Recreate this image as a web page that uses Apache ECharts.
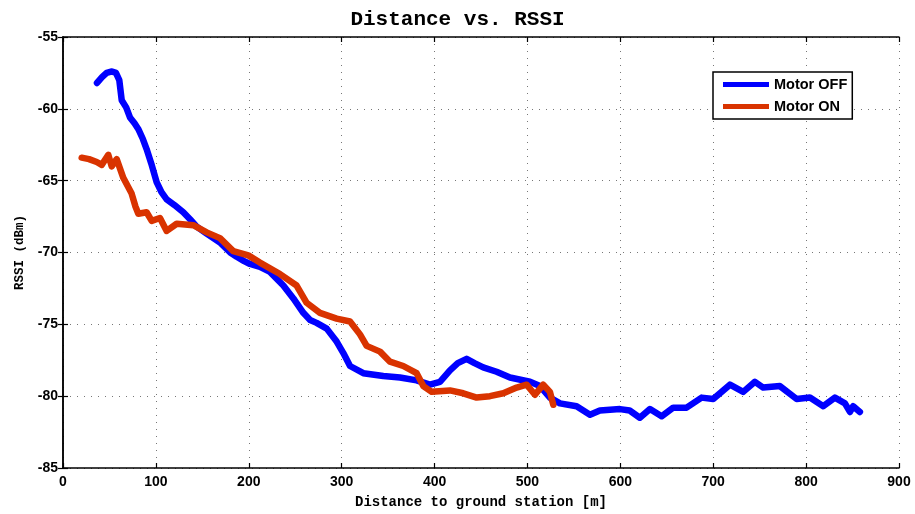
<!DOCTYPE html>
<html><head><meta charset="utf-8">
<script src="https://cdn.jsdelivr.net/npm/echarts@6/dist/echarts.min.js"></script>
<style>html,body{margin:0;padding:0;background:#fff}#c{width:915px;height:514px}</style>
</head><body><div id="c"></div>
<script>
const xTicks = [0,100,200,300,400,500,600,700,800,900];
const yTicks = [-85,-80,-75,-70,-65,-60,-55];
const motorOff = [[36.6,-58.2],[42,-57.8],[47,-57.5],[52.7,-57.4],[57,-57.5],[60.6,-58.0],[63.2,-59.4],[68,-59.9],[72.1,-60.6],[77,-61.0],[81,-61.4],[86,-62.1],[90,-62.8],[95,-63.8],[100.8,-65.1],[106,-65.8],[111.6,-66.3],[120,-66.7],[129.5,-67.2],[137,-67.7],[143.9,-68.2],[155,-68.7],[169,-69.3],[180,-70.0],[187,-70.3],[195,-70.6],[201.3,-70.8],[212,-71.0],[222.8,-71.35],[237.2,-72.3],[248,-73.2],[258.7,-74.2],[266,-74.7],[273,-74.9],[283.9,-75.3],[294.6,-76.2],[301.8,-77.0],[309,-77.9],[323.3,-78.4],[344.8,-78.6],[362.8,-78.7],[380.7,-78.9],[395,-79.2],[405.8,-79.0],[416.6,-78.2],[425,-77.7],[434.5,-77.4],[443,-77.7],[452.4,-78.0],[466.8,-78.3],[481.2,-78.7],[502.7,-79.0],[513.5,-79.3],[524.2,-80.1],[535,-80.5],[552.9,-80.7],[567.3,-81.3],[578,-81.0],[599.6,-80.9],[610,-81.0],[621,-81.5],[631.9,-80.9],[644.4,-81.4],[656.9,-80.8],[671.3,-80.8],[687.5,-80.1],[700,-80.2],[718,-79.2],[732.3,-79.7],[744.9,-79.0],[753.8,-79.4],[771.8,-79.3],[789.8,-80.2],[804.1,-80.1],[818.5,-80.7],[831,-80.1],[841.8,-80.5],[847.2,-81.1],[850.7,-80.7],[857.9,-81.1]];
const motorOn = [[20.1,-63.4],[28,-63.5],[36.3,-63.7],[41.7,-63.9],[48.8,-63.2],[52.4,-64.0],[57.8,-63.5],[64.9,-64.8],[73.9,-65.9],[78,-66.8],[81.1,-67.3],[90,-67.2],[95.5,-67.8],[104.4,-67.6],[111.6,-68.5],[122.4,-68.0],[140.3,-68.1],[154.7,-68.6],[169,-69.0],[183.3,-69.9],[199.5,-70.2],[212,-70.7],[233.6,-71.5],[251.5,-72.3],[262.3,-73.5],[276.6,-74.2],[294.6,-74.6],[309,-74.8],[319.7,-75.7],[326.9,-76.5],[341.3,-76.9],[352,-77.6],[366.3,-77.9],[380.7,-78.4],[387.9,-79.3],[396.9,-79.7],[416.6,-79.6],[430.9,-79.8],[445.3,-80.1],[459.6,-80.0],[474,-79.8],[488.4,-79.4],[499.1,-79.2],[508.1,-79.9],[517,-79.2],[524.2,-79.7],[527.8,-80.6]];

const chart = echarts.init(document.getElementById('c'), null, {renderer:'canvas'});
const lbl = {color:'#000', fontFamily:'Liberation Sans, Arial, sans-serif', fontWeight:'bold', fontSize:14};
const grid = {left:63, right:16, top:37, bottom:43};
const split = {show:true, lineStyle:{color:'#777', type:[1,6], width:1}};
const axLine = {show:true, lineStyle:{color:'#000', width:1.5}};
const tick = {show:true, inside:true, length:5, lineStyle:{color:'#000', width:1.2}};
chart.setOption({
  animation:false,
  backgroundColor:'#fff',
  title:{text:'Distance vs. RSSI', left:'center', top:4,
    textStyle:{fontFamily:'Liberation Mono, Courier New, monospace', fontWeight:'bold', fontSize:21, color:'#000'}},
  legend:{orient:'vertical', left:713, top:72, padding:[4,5,4,10], itemGap:5,
    itemWidth:46, itemHeight:5, icon:'rect', borderColor:'#000', borderWidth:1.5, backgroundColor:'#fff',
    textStyle:{fontFamily:'Liberation Sans, Arial, sans-serif', fontWeight:'bold', fontSize:14.5, color:'#000', lineHeight:17},
    data:['Motor OFF','Motor ON']},
  grid:grid,
  xAxis:[{type:'value', min:xTicks[0], max:xTicks[xTicks.length-1], interval:100,
    name:'Distance to ground station [m]', nameLocation:'middle', nameGap:27,
    nameTextStyle:{fontFamily:'Liberation Mono, Courier New, monospace', fontWeight:'bold', fontSize:14, color:'#000'},
    axisLine:axLine, axisTick:tick, splitLine:split, axisLabel:Object.assign({margin:7}, lbl)},
   {type:'value', position:'top', min:0, max:900, interval:100, axisLine:axLine, axisTick:tick,
    splitLine:{show:false}, axisLabel:{show:false}}],
  yAxis:[{type:'value', min:yTicks[0], max:yTicks[yTicks.length-1], interval:5,
    name:'RSSI (dBm)', nameLocation:'middle', nameGap:37,
    nameTextStyle:{fontFamily:'Liberation Mono, Courier New, monospace', fontWeight:'bold', fontSize:12.5, color:'#000'},
    axisLine:axLine, axisTick:tick, splitLine:split, axisLabel:Object.assign({margin:5}, lbl)},
   {type:'value', position:'right', min:-85, max:-55, interval:5, axisLine:axLine, axisTick:tick,
    splitLine:{show:false}, axisLabel:{show:false}}],
  series:[
    {name:'Motor OFF', type:'line', data:motorOff, showSymbol:false, symbol:'none',
     itemStyle:{color:'#0000ff'}, lineStyle:{color:'#0000ff', width:6.5, cap:'round', join:'round'}},
    {name:'Motor ON', type:'line', data:motorOn, showSymbol:false, symbol:'none',
     itemStyle:{color:'#d93300'}, lineStyle:{color:'#d93300', width:6.5, cap:'round', join:'round'}}
  ]
});
</script></body></html>
